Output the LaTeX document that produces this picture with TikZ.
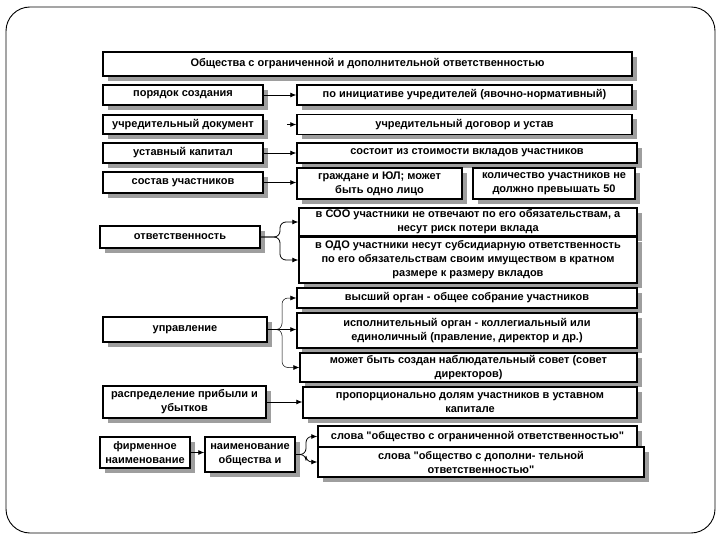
\documentclass[tikz,border=0pt]{standalone}
\usepackage{fontspec}
\newfontfamily\boxfont{Liberation Sans}
\usetikzlibrary{arrows.meta,shadows}
\begin{document}
\begin{tikzpicture}[x=1pt,y=-1pt,
  bx/.style={draw, line width=1.4pt, fill=white, rectangle, inner sep=1pt, align=center,
    font=\boxfont\fontsize{11}{14}\selectfont\bfseries,
    drop shadow={shadow xshift=5pt, shadow yshift=-5pt, fill=black!38, opacity=1}},
  arr/.style={line width=0.8pt, -{Latex[length=6pt,width=5pt]}},
  brc/.style={arr, rounded corners=6pt}]
\useasboundingbox (0,0) rectangle (720,540);
\draw[line width=0.9pt, rounded corners=24pt] (6,7) rectangle (715,533);

\node[bx, minimum width=529pt, minimum height=24pt] (title) at (367.5,64) {Общества с ограниченной и дополнительной ответственностью};

\node[bx, minimum width=160pt, minimum height=20pt] (por) at (183,95) {порядок создания};
\node[bx, minimum width=335pt, minimum height=20pt] (ini) at (464.5,95) {по инициативе учредителей (явочно-нормативный)};

\node[bx, minimum width=160pt, minimum height=19pt] (udoc) at (183,124.5) {учредительный документ};
\node[bx, minimum width=335pt, minimum height=20pt] (udog) at (464.5,124.5) {учредительный договор и устав};

\node[bx, minimum width=160pt, minimum height=20pt] (ukap) at (183,153) {уставный капитал};
\node[bx, minimum width=340pt, minimum height=20pt] (sost) at (467,153) {состоит из стоимости вкладов участников};

\node[bx, minimum width=160pt, minimum height=21pt] (sostav) at (183,182.5) {состав участников};
\node[bx, minimum width=165pt, minimum height=31pt] (grazh) at (379.5,183.5) {граждане и ЮЛ; может\\быть одно лицо};
\node[bx, minimum width=162pt, minimum height=31pt] (kol) at (554,183.5) {количество участников не\\должно превышать 50};

\node[bx, minimum width=160pt, minimum height=22pt] (otv) at (180,237) {ответственность};
\node[bx, minimum width=338pt, minimum height=28pt] (soo) at (468,222) {в СОО участники не отвечают по его обязательствам, а\\несут риск потери вклада};
\node[bx, minimum width=338pt, minimum height=46pt] (odo) at (468,260) {в ОДО участники несут субсидиарную ответственность\\по его обязательствам своим имуществом в кратном\\размере к размеру вкладов};

\node[bx, minimum width=340pt, minimum height=20pt] (vys) at (467,298) {высший орган - общее собрание участников};
\node[bx, minimum width=164pt, minimum height=25pt] (upr) at (185,329.5) {управление};
\node[bx, minimum width=340pt, minimum height=35pt] (isp) at (467,330.5) {исполнительный орган - коллегиальный или\\единоличный (правление, директор и др.)};
\node[bx, minimum width=337pt, minimum height=29pt] (nab) at (468.5,367.5) {может быть создан наблюдательный совет (совет\\директоров)};

\node[bx, minimum width=163pt, minimum height=32pt] (rasp) at (184.5,402) {распределение прибыли и\\убытков};
\node[bx, minimum width=334pt, minimum height=31pt] (prop) at (470,402.5) {пропорционально долям участников в уставном\\капитале};

\node[bx, minimum width=90pt, minimum height=31pt] (firm) at (145,452.5) {фирменное\\наименование};
\node[bx, minimum width=90pt, minimum height=35pt] (naim) at (250,454.5) {наименование\\общества и};
\node[bx, minimum width=319pt, minimum height=21pt] (sl1) at (477.5,436.5) {слова "общество с ограниченной ответственностью"};
\node[bx, minimum width=326pt, minimum height=30pt] (sl2) at (481,462) {слова "общество с дополни- тельной\\ответственностью"};

\coordinate (udocend) at (287,124.5);

\draw[arr] (por.east) -- (ini.west);
\draw[arr] (udocend) -- (udog.west);
\draw[arr] (ukap.east) -- (sost.west);
\draw[arr] (sostav.east) -- (grazh.west |- sostav.east);
\draw[brc] (otv.east) -- (280,237) |- (soo.west);
\draw[brc] (otv.east) -- (280,237) |- (odo.west);
\draw[arr] (upr.east) -- (isp.west |- upr.east);
\draw[brc, line width=0.5pt] (upr.east) -- (282,329.5) |- (vys.west);
\draw[brc, line width=0.5pt] (upr.east) -- (282,329.5) |- (nab.west);
\draw[arr] (rasp.east) -- (prop.west |- rasp.east);
\draw[arr] (firm.east) -- (naim.west |- firm.east);
\draw[brc] (naim.east) -- (306,454.5) |- (sl1.west);
\draw[brc] (naim.east) -- (306,454.5) |- (sl2.west);
\end{tikzpicture}
\end{document}
